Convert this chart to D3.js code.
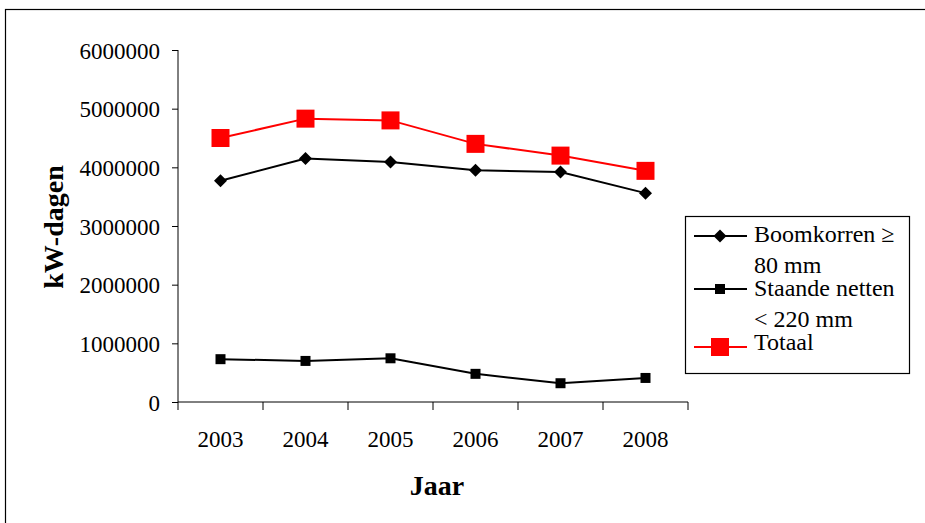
<!DOCTYPE html>
<html>
<head>
<meta charset="utf-8">
<script src="https://cdn.jsdelivr.net/npm/d3@7"></script>
<style>
  body { margin: 0; background: #fff; }
  text { font-family: "Liberation Serif", "Times New Roman", serif; }
</style>
</head>
<body>
<div id="chart"></div>
<script>
// data
var years = ["2003", "2004", "2005", "2006", "2007", "2008"];
var boomkorren = [3770000, 4150000, 4090000, 3950000, 3920000, 3560000];
var staandeNetten = [730000, 700000, 745000, 480000, 320000, 410000];
var totaal = [4500000, 4830000, 4800000, 4400000, 4200000, 3940000];
var yTicks = [0, 1000000, 2000000, 3000000, 4000000, 5000000, 6000000];

var width = 925, height = 523;
var margin = { top: 50, right: 230, bottom: 121, left: 178 };
var plotW = width - margin.left - margin.right,
    plotH = height - margin.top - margin.bottom;

var svg = d3.select("#chart").append("svg")
  .attr("width", width)
  .attr("height", height);

// outer frame (runs off the right and bottom)
svg.append("rect")
  .attr("x", 5.5).attr("y", 9.5)
  .attr("width", 940).attr("height", 540)
  .attr("fill", "none").attr("stroke", "#000").attr("stroke-width", 1.2);

var g = svg.append("g")
  .attr("transform", "translate(" + margin.left + "," + margin.top + ")");

var x = d3.scaleBand().domain(years).range([0, 510]);
var y = d3.scaleLinear().domain([0, 6000000]).range([plotH, 0]);

// y axis
var yAxis = d3.axisLeft(y).tickValues(yTicks).tickSize(6).tickPadding(12)
  .tickFormat(d3.format("d"));
var yg = g.append("g").attr("class", "y axis").call(yAxis);
yg.select(".domain").attr("d", "M0,0V" + plotH);

// x axis
var xAxis = d3.axisBottom(x).tickSize(0).tickPadding(29);
var xg = g.append("g").attr("class", "x axis")
  .attr("transform", "translate(0," + plotH + ")")
  .call(xAxis);
xg.select(".domain").attr("d", "M0,0H510");
xg.selectAll(".xtick")
  .data(d3.range(years.length + 1))
  .enter().append("line")
  .attr("x1", function (i) { return i * x.step(); })
  .attr("x2", function (i) { return i * x.step(); })
  .attr("y1", 0).attr("y2", 8)
  .attr("stroke", "#000");

g.selectAll(".axis text").attr("font-size", 23).attr("fill", "#000")
  .style("font-family", "Liberation Serif, serif");
yg.selectAll("text").attr("dy", "0.35em");
g.selectAll(".axis path, .axis line").attr("stroke", "#000");

// series
var series = [
  { name: "Boomkorren", values: boomkorren, color: "#000", shape: "diamond", size: 11 },
  { name: "Staande netten", values: staandeNetten, color: "#000", shape: "square", size: 10 },
  { name: "Totaal", values: totaal, color: "#ff0000", shape: "square", size: 18 }
];

var line = d3.line()
  .x(function (d, i) { return x(years[i]) + x.bandwidth() / 2; })
  .y(function (d) { return y(d); });

function markerPath(s) {
  // square / diamond of a given pixel width
  if (s.shape === "diamond") {
    var h = s.size / 2 + 1;
    return "M0," + (-h) + "L" + h + ",0L0," + h + "L" + (-h) + ",0Z";
  }
  var a = s.size / 2;
  return "M" + (-a) + "," + (-a) + "H" + a + "V" + a + "H" + (-a) + "Z";
}

series.forEach(function (s) {
  g.append("path")
    .attr("d", line(s.values))
    .attr("fill", "none")
    .attr("stroke", s.color)
    .attr("stroke-width", 2);

  g.selectAll(null)
    .data(s.values)
    .enter().append("path")
    .attr("transform", function (d, i) {
      return "translate(" + (x(years[i]) + x.bandwidth() / 2) + "," + y(d) + ")";
    })
    .attr("d", markerPath(s))
    .attr("fill", s.color);
});

// axis titles
svg.append("text")
  .attr("x", 437).attr("y", 495)
  .attr("text-anchor", "middle")
  .attr("font-size", 28).attr("font-weight", "bold")
  .text("Jaar");

svg.append("text")
  .attr("transform", "translate(63,227) rotate(-90)")
  .attr("text-anchor", "middle")
  .attr("font-size", 28).attr("font-weight", "bold")
  .text("kW-dagen");

// legend
var legend = svg.append("g").attr("transform", "translate(685,216)");
legend.append("rect")
  .attr("x", 0.5).attr("y", 0.5)
  .attr("width", 224).attr("height", 157)
  .attr("fill", "#fff").attr("stroke", "#000").attr("stroke-width", 1.2);

var legendRows = [
  { s: series[0], y: 20, base: 26, lines: ["Boomkorren \u2265", "80 mm"] },
  { s: series[1], y: 73, base: 80, lines: ["Staande netten", "< 220 mm"] },
  { s: series[2], y: 131, base: 134, lines: ["Totaal"] }
];

legendRows.forEach(function (r) {
  legend.append("line")
    .attr("x1", 9).attr("x2", 62)
    .attr("y1", r.y).attr("y2", r.y)
    .attr("stroke", r.s.color).attr("stroke-width", 2);
  legend.append("path")
    .attr("transform", "translate(35," + r.y + ")")
    .attr("d", markerPath(r.s))
    .attr("fill", r.s.color);
  var t = legend.append("text")
    .attr("x", 69).attr("y", r.base)
    .attr("font-size", 24);
  r.lines.forEach(function (l, i) {
    t.append("tspan").attr("x", 69).attr("dy", i === 0 ? 0 : 31).text(l);
  });
});
</script>
</body>
</html>
